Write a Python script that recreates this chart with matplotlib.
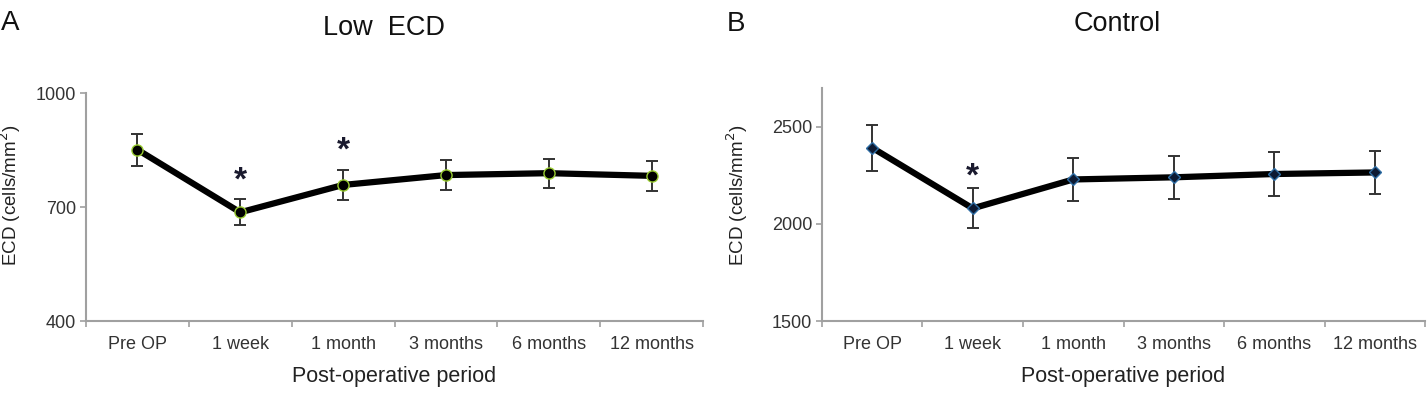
import matplotlib
matplotlib.use("Agg")
import matplotlib.pyplot as plt
import numpy as np

plt.rcParams['font.family'] = ['Liberation Sans', 'DejaVu Sans']

periods = ["Pre OP", "1 week", "1 month", "3 months", "6 months", "12 months"]

low_ecd_mean = [851, 686, 758, 784, 789, 782]
low_ecd_err = [42, 34, 40, 39, 38, 40]
low_ecd_sig = [False, True, True, False, False, False]

control_mean = [2392, 2080, 2229, 2240, 2257, 2265]
control_err = [117, 103, 113, 112, 112, 112]
control_sig = [False, True, False, False, False, False]

W, H = 1428, 393
fig = plt.figure(figsize=(W / 100, H / 100), dpi=100)

def px_axes(l, r, t, b):
    return fig.add_axes([l / W, 1 - b / H, (r - l) / W, (b - t) / H])

axA = px_axes(86, 703, 93, 321)
axB = px_axes(822, 1425, 88, 321)

grey = "#a0a0a0"
tick_c = "#333333"

def style(ax, ylim, yticks):
    x = np.arange(len(periods))
    ax.set_xlim(-0.5, len(periods) - 0.5)
    ax.set_ylim(*ylim)
    ax.set_yticks(yticks)
    ax.set_xticks(np.arange(len(periods) + 1) - 0.5, minor=False)
    ax.set_xticklabels([])
    ax.set_xticks(x, minor=True)
    ax.set_xticklabels(periods, minor=True)
    ax.tick_params(axis='x', which='minor', length=0, pad=11, labelsize=13, labelcolor=tick_c)
    ax.tick_params(axis='x', which='major', length=4, width=1.2, color=grey, direction='out')
    ax.tick_params(axis='y', length=4, width=1.2, color=grey, direction='out',
                   labelsize=13, labelcolor=tick_c, pad=3)
    for s in ['top', 'right']:
        ax.spines[s].set_visible(False)
    for s in ['left', 'bottom']:
        ax.spines[s].set_color(grey)
        ax.spines[s].set_linewidth(1.5)
    ax.set_xlabel("Post-operative period", fontsize=15.5, color="#222222", labelpad=9)

# Panel A
x = np.arange(len(periods))
style(axA, (400, 1000), [400, 700, 1000])
axA.errorbar(x, low_ecd_mean, yerr=low_ecd_err, fmt='none', ecolor="#333333",
             elinewidth=1.4, capsize=4, capthick=1.4, zorder=2)
axA.plot(x, low_ecd_mean, color="black", lw=4.5, zorder=3, solid_capstyle='round')
axA.plot(x, low_ecd_mean, 'o', ms=8, mfc="black", mec="#9acd32", mew=1.0, zorder=4, lw=0)
for xi, m, e, s in zip(x, low_ecd_mean, low_ecd_err, low_ecd_sig):
    if s:
        axA.annotate("*", (xi, m + e), xytext=(0, 2), textcoords='offset points',
                     ha='center', va='bottom', fontsize=24, fontweight='bold', color="#1a1a2e")

# Panel B
style(axB, (1500, 2700), [1500, 2000, 2500])
axB.errorbar(x, control_mean, yerr=control_err, fmt='none', ecolor="#333333",
             elinewidth=1.4, capsize=4, capthick=1.4, zorder=2)
axB.plot(x, control_mean, color="black", lw=4.5, zorder=3, solid_capstyle='round')
axB.plot(x, control_mean, 'D', ms=6, mfc="#0d1a33", mec="#2e6da4", mew=1.0, zorder=4, lw=0)
for xi, m, e, s in zip(x, control_mean, control_err, control_sig):
    if s:
        axB.annotate("*", (xi, m + e), xytext=(0, -3), textcoords='offset points',
                     ha='center', va='bottom', fontsize=24, fontweight='bold', color="#1a1a2e")

# y labels
fig.text(10 / W, 1 - 195 / H, "ECD (cells/mm$^2$)", rotation=90, ha='center', va='center',
         fontsize=13.5, color="#222222")
fig.text(737 / W, 1 - 195 / H, "ECD (cells/mm$^2$)", rotation=90, ha='center', va='center',
         fontsize=13.5, color="#222222")

# titles and panel letters
fig.text(384 / W, 1 - 28 / H, "Low  ECD", ha='center', va='center', fontsize=19.5, color="#111111")
fig.text(1117 / W, 1 - 24 / H, "Control", ha='center', va='center', fontsize=19.5, color="#111111")
fig.text(10 / W, 1 - 23 / H, "A", ha='center', va='center', fontsize=20, color="#111111")
fig.text(736 / W, 1 - 24 / H, "B", ha='center', va='center', fontsize=20, color="#111111")

fig.savefig("out.png", dpi=100)
